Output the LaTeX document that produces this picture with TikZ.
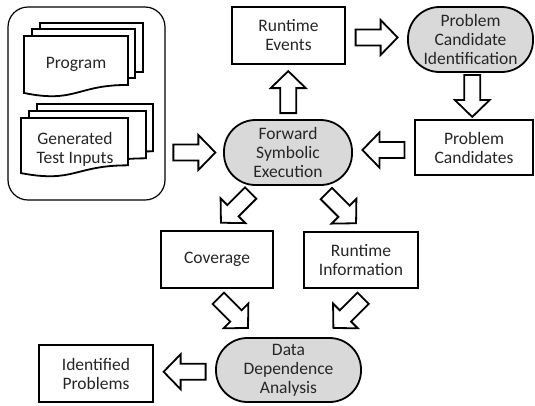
\documentclass[tikz,border=0pt]{standalone}
\usepackage{fontspec}
\setmainfont{Carlito}
\usetikzlibrary{calc}
\definecolor{stagegray}{HTML}{D9D9D9}
\definecolor{textgray}{HTML}{262626}

\tikzset{
    databox/.style={draw, line width=2.2pt, fill=white, minimum width=113pt,
        minimum height=57pt, align=center, inner sep=0pt},
    stagebox/.style={draw, line width=1.8pt, fill=stagegray, rounded corners=31.5pt,
        minimum height=65pt, align=center, inner sep=0pt},
    docpage/.style={draw, line width=1.8pt, fill=white},
    pics/barrow/.style={code={
        \draw[line width=1.8pt, fill=white, line join=miter]
            (-21,-8) -- (4,-8) -- (4,-17.5) -- (21,0) -- (4,17.5) -- (4,8) -- (-21,8) -- cycle;
    }}
}

% page with a wavy bottom: left, top, width, height
\newcommand{\wavepage}[4]{%
    \draw[docpage] (#1,#2) -- ({#1+#3},#2) -- ({#1+#3},{#2+0.802*#4})
        .. controls ({#1+0.5*#3},{#2+0.802*#4}) and ({#1+0.5*#3},{#2+1.107*#4}) .. (#1,{#2+0.934*#4})
        -- cycle;
}

\begin{document}
\begin{tikzpicture}[x=1pt, y=-1pt, font=\fontsize{17.5}{19}\selectfont,
    every node/.append style={text=textgray}]
    \useasboundingbox (0,0) rectangle (535,405);

    % inputs
    \node[draw, line width=1.2pt, rounded corners=20pt, minimum width=157pt,
        minimum height=193pt] (srcbox) at (86.5,103.5) {};
    \wavepage{40}{23}{103}{61}
    \wavepage{32}{29}{103}{61}
    \wavepage{24}{36}{104}{61}
    \node (prog) at (76,64) {Program};
    \wavepage{37}{104}{116}{59}
    \wavepage{29}{111}{117}{59}
    \wavepage{21}{118}{107}{59}
    \node[align=center] (gti) at (75,149) {Generated\\Test Inputs};

    % stages and results
    \node[databox] (re) at (288.5,35.5) {Runtime\\Events};
    \node[stagebox, minimum width=125pt] (pci) at (470.5,39.5) {Problem\\Candidate\\Identification};
    \node[databox, minimum width=118pt, minimum height=55pt] (pc) at (474,147.5) {Problem\\Candidates};
    \node[stagebox, minimum width=128pt] (fse) at (288,152.5) {Forward\\Symbolic\\Execution};
    \node[databox, minimum width=112pt] (cov) at (217,259.5) {Coverage};
    \node[databox, minimum width=114pt, minimum height=56pt] (ri) at (361,260) {Runtime\\Information};
    \node[stagebox, minimum width=145pt, minimum height=64pt] (dda) at (288.5,370) {Data\\Dependence\\Analysis};
    \node[databox, minimum width=114pt] (ip) at (96,373.5) {Identified\\Problems};

    % block arrows
    \coordinate (srcout) at (srcbox.east |- fse.west);
    \pic at ($(srcout)!.5!(fse.west)$) {barrow};
    \pic[rotate=90] at ($(fse.north)!.5!(re.south)$) {barrow};
    \pic at ($(re.east)!.5!(pci.west)$) {barrow};
    \pic[rotate=-90] at ($(pci.south)!.5!(pc.north)$) {barrow};
    \pic[rotate=180] at ($(pc.west)!.5!(fse.east)$) {barrow};
    \pic[rotate=-135] at ($(fse.-135)!.5!(cov.north)$) {barrow};
    \pic[rotate=-45] at ($(fse.-45)!.5!(ri.north)$) {barrow};
    \pic[rotate=-45] at ($(cov.south)!.5!(dda.140)$) {barrow};
    \pic[rotate=-135] at ($(ri.south)!.5!(dda.35)$) {barrow};
    \pic[rotate=180] at ($(dda.west)!.5!(ip.east)$) {barrow};
\end{tikzpicture}
\end{document}
